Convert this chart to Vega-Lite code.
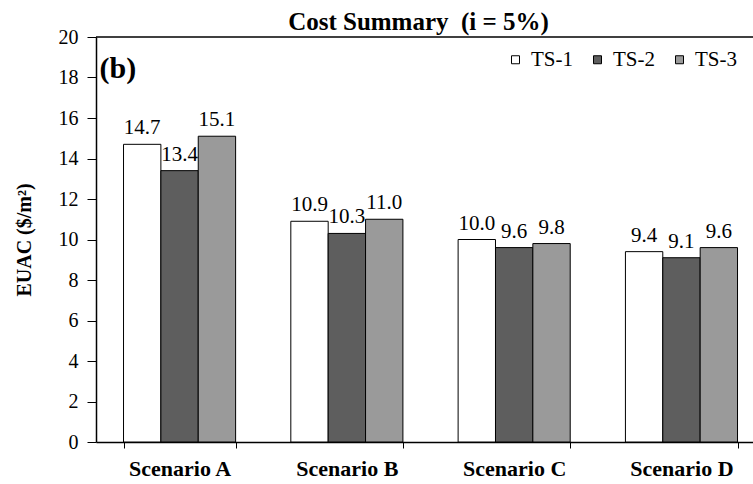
{
  "$schema": "https://vega.github.io/schema/vega-lite/v6.json",
  "width": 657,
  "height": 405,
  "autosize": {"type": "none"},
  "padding": {"left": 96, "top": 37, "right": 0, "bottom": 42},
  "background": "white",
  "config": {
    "view": {"stroke": null},
    "font": "Liberation Serif"
  },
  "title": {
    "text": "Cost Summary\u00a0\u00a0(i = 5%)",
    "font": "Liberation Serif",
    "fontSize": 25,
    "fontWeight": "bold",
    "color": "black",
    "anchor": "middle",
    "frame": "group",
    "dx": -6,
    "offset": -8
  },
  "data": {
    "values": [
      {"scenario": "Scenario A", "series": "TS-1", "euac": 14.7},
      {"scenario": "Scenario A", "series": "TS-2", "euac": 13.4},
      {"scenario": "Scenario A", "series": "TS-3", "euac": 15.1},
      {"scenario": "Scenario B", "series": "TS-1", "euac": 10.9},
      {"scenario": "Scenario B", "series": "TS-2", "euac": 10.3},
      {"scenario": "Scenario B", "series": "TS-3", "euac": 11.0},
      {"scenario": "Scenario C", "series": "TS-1", "euac": 10.0},
      {"scenario": "Scenario C", "series": "TS-2", "euac": 9.6},
      {"scenario": "Scenario C", "series": "TS-3", "euac": 9.8},
      {"scenario": "Scenario D", "series": "TS-1", "euac": 9.4},
      {"scenario": "Scenario D", "series": "TS-2", "euac": 9.1},
      {"scenario": "Scenario D", "series": "TS-3", "euac": 9.6}
    ]
  },
  "layer": [
    {
      "mark": {"type": "bar", "stroke": "black", "strokeWidth": 1},
      "encoding": {
        "x": {
          "field": "scenario",
          "type": "nominal",
          "scale": {"paddingInner": 0.33, "paddingOuter": 0.1285, "align": 0.64},
          "axis": {
            "title": null,
            "labelAngle": 0,
            "labelFont": "Liberation Serif",
            "labelFontSize": 22,
            "labelFontWeight": "bold",
            "labelColor": "black",
            "labelPadding": 10,
            "tickBand": "extent",
            "tickSize": 6,
            "tickColor": "black",
            "domainColor": "black",
            "domainWidth": 1.5,
            "ticks": true
          }
        },
        "xOffset": {"field": "series", "type": "nominal", "scale": {"paddingInner": 0, "paddingOuter": 0}},
        "y": {
          "field": "euac",
          "type": "quantitative",
          "scale": {"domain": [0, 20], "nice": false},
          "axis": {
            "title": "EUAC ($/m²)",
            "titleFont": "Liberation Serif",
            "titleFontSize": 20,
            "titleFontWeight": "bold",
            "titleColor": "black",
            "titlePadding": 24,
            "values": [0, 0.5, 1, 1.5, 2, 2.5, 3, 3.5, 4, 4.5, 5, 5.5, 6, 6.5, 7, 7.5, 8, 8.5, 9, 9.5, 10, 10.5, 11, 11.5, 12, 12.5, 13, 13.5, 14, 14.5, 15, 15.5, 16, 16.5, 17, 17.5, 18, 18.5, 19, 19.5, 20],
            "labelExpr": "datum.value % 2 == 0 ? datum.label : ''",
            "labelFont": "Liberation Serif",
            "labelFontSize": 20,
            "labelColor": "black",
            "labelPadding": 9,
            "tickSize": {"condition": {"test": "datum.value % 2 == 0", "value": 9}, "value": -5},
            "tickColor": "black",
            "domainColor": "black",
            "domainWidth": 1.5,
            "grid": false
          }
        },
        "color": {
          "field": "series",
          "type": "nominal",
          "scale": {"domain": ["TS-1", "TS-2", "TS-3"], "range": ["#ffffff", "#5e5e5e", "#9a9a9a"]},
          "legend": {
            "title": null,
            "orient": "none",
            "legendX": 409,
            "legendY": 12,
            "direction": "horizontal",
            "symbolType": "square",
            "symbolSize": 64,
            "symbolStrokeColor": "black",
            "symbolStrokeWidth": 1,
            "labelFont": "Liberation Serif",
            "labelFontSize": 21,
            "labelColor": "black",
            "labelOffset": 5,
            "columnPadding": 14
          }
        }
      }
    },
    {
      "mark": {"type": "text", "baseline": "alphabetic", "dy": -10, "font": "Liberation Serif", "fontSize": 21, "color": "black"},
      "encoding": {
        "x": {"field": "scenario", "type": "nominal"},
        "xOffset": {"field": "series", "type": "nominal"},
        "y": {"field": "euac", "type": "quantitative"},
        "text": {"field": "euac", "type": "quantitative", "format": ".1f"}
      }
    },
    {
      "mark": {"type": "rule", "color": "black", "strokeWidth": 1.5},
      "data": {"values": [{"top": 20}]},
      "encoding": {"y": {"field": "top", "type": "quantitative"}}
    },
    {
      "mark": {"type": "text", "align": "left", "baseline": "alphabetic", "dx": -24, "dy": 2, "font": "Liberation Serif", "fontSize": 30, "fontWeight": "bold", "color": "black"},
      "data": {"values": [{"label": "(b)", "scenario": "Scenario A", "pos": 18.05}]},
      "encoding": {
        "x": {"field": "scenario", "type": "nominal", "bandPosition": 0},
        "y": {"field": "pos", "type": "quantitative"},
        "text": {"field": "label"}
      }
    }
  ]
}
